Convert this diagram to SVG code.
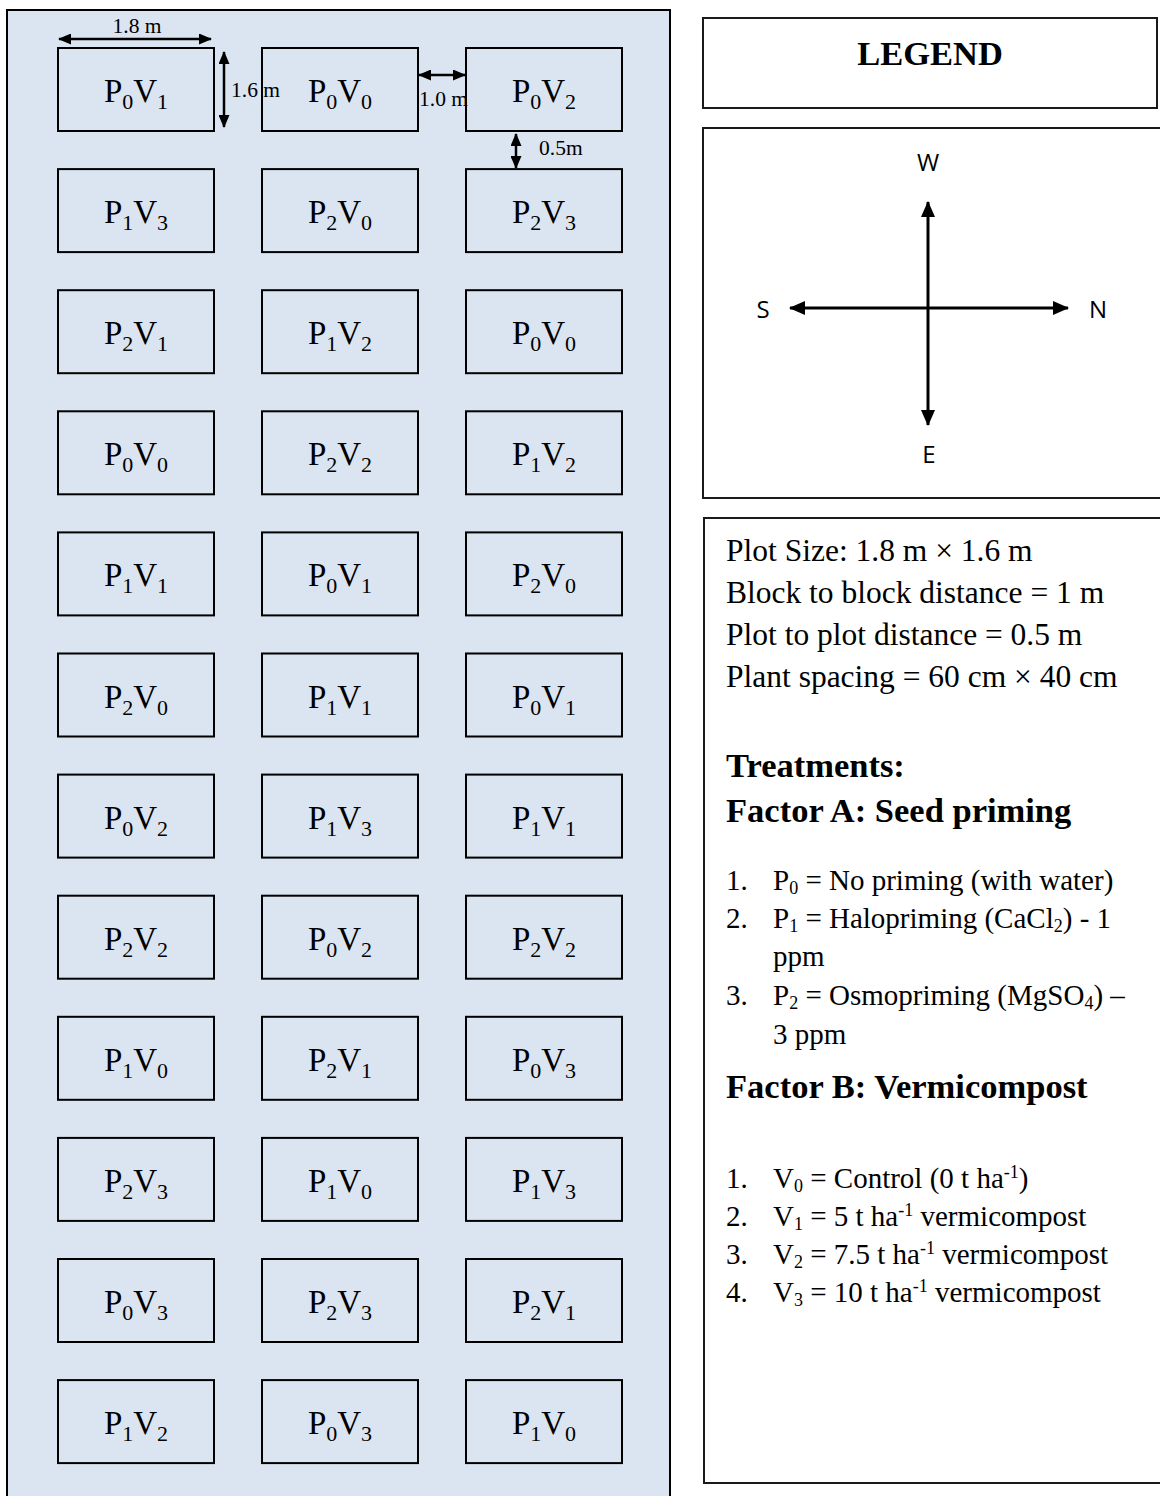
<svg xmlns="http://www.w3.org/2000/svg" width="1160" height="1496" viewBox="0 0 1160 1496">
  <defs>
    <marker id="dimHead" viewBox="0 0 13 11" refX="12" refY="5.5" markerWidth="13" markerHeight="11" markerUnits="userSpaceOnUse" orient="auto-start-reverse">
      <path d="M0,0 L13,5.5 L0,11 Z" fill="#000"/>
    </marker>
    <marker id="compassHead" viewBox="0 0 16 14" refX="15" refY="7" markerWidth="16" markerHeight="14" markerUnits="userSpaceOnUse" orient="auto-start-reverse">
      <path d="M0,0 L16,7 L0,14 Z" fill="#000"/>
    </marker>
  </defs>
  <style>
    .field { fill: #dbe5f1; stroke: #000; stroke-width: 2; }
    .plot rect { fill: none; stroke: #000; stroke-width: 2; }
    .plot text { font-family: "Liberation Serif", "Times New Roman", serif; font-size: 33px; fill: #000; text-anchor: middle; }
    .plot .s { font-size: 22px; }
    .dim { stroke: #000; stroke-width: 2.5; fill: none; marker-start: url(#dimHead); marker-end: url(#dimHead); }
    .dimlbl { font-family: "Liberation Serif", "Times New Roman", serif; font-size: 21.5px; fill: #000; }
    .box { fill: #fff; stroke: #1a1a1a; stroke-width: 2; }
    .cmp { stroke: #000; stroke-width: 3; fill: none; marker-start: url(#compassHead); marker-end: url(#compassHead); }
    .dir { font-family: "Open Sans", "Noto Sans", sans-serif; font-size: 24px; fill: #000; text-anchor: middle; }
    .serif { font-family: "Liberation Serif", "Times New Roman", serif; fill: #000; }
    .note { font-size: 31.5px; }
    .head { font-size: 34.5px; font-weight: bold; }
    .item { font-size: 29px; }
    .sub { font-size: 18px; }
    .sup { font-size: 18px; }
  </style>

  <!-- field layout background -->
  <rect class="field" x="7" y="10" width="663" height="1500"/>

  <!-- plots: 12 rows x 3 blocks -->
  <g id="plots">
    <g id="r1c1" class="plot"><rect x="58" y="48" width="156" height="83"/><text x="136" y="102">P<tspan class="s" dy="7">0</tspan><tspan dy="-7">V</tspan><tspan class="s" dy="7">1</tspan></text></g>
    <g id="r1c2" class="plot"><rect x="262" y="48" width="156" height="83"/><text x="340" y="102">P<tspan class="s" dy="7">0</tspan><tspan dy="-7">V</tspan><tspan class="s" dy="7">0</tspan></text></g>
    <g id="r1c3" class="plot"><rect x="466" y="48" width="156" height="83"/><text x="544" y="102">P<tspan class="s" dy="7">0</tspan><tspan dy="-7">V</tspan><tspan class="s" dy="7">2</tspan></text></g>

    <g id="r2c1" class="plot"><rect x="58" y="169.1" width="156" height="83"/><text x="136" y="223.1">P<tspan class="s" dy="7">1</tspan><tspan dy="-7">V</tspan><tspan class="s" dy="7">3</tspan></text></g>
    <g id="r2c2" class="plot"><rect x="262" y="169.1" width="156" height="83"/><text x="340" y="223.1">P<tspan class="s" dy="7">2</tspan><tspan dy="-7">V</tspan><tspan class="s" dy="7">0</tspan></text></g>
    <g id="r2c3" class="plot"><rect x="466" y="169.1" width="156" height="83"/><text x="544" y="223.1">P<tspan class="s" dy="7">2</tspan><tspan dy="-7">V</tspan><tspan class="s" dy="7">3</tspan></text></g>

    <g id="r3c1" class="plot"><rect x="58" y="290.2" width="156" height="83"/><text x="136" y="344.2">P<tspan class="s" dy="7">2</tspan><tspan dy="-7">V</tspan><tspan class="s" dy="7">1</tspan></text></g>
    <g id="r3c2" class="plot"><rect x="262" y="290.2" width="156" height="83"/><text x="340" y="344.2">P<tspan class="s" dy="7">1</tspan><tspan dy="-7">V</tspan><tspan class="s" dy="7">2</tspan></text></g>
    <g id="r3c3" class="plot"><rect x="466" y="290.2" width="156" height="83"/><text x="544" y="344.2">P<tspan class="s" dy="7">0</tspan><tspan dy="-7">V</tspan><tspan class="s" dy="7">0</tspan></text></g>

    <g id="r4c1" class="plot"><rect x="58" y="411.3" width="156" height="83"/><text x="136" y="465.3">P<tspan class="s" dy="7">0</tspan><tspan dy="-7">V</tspan><tspan class="s" dy="7">0</tspan></text></g>
    <g id="r4c2" class="plot"><rect x="262" y="411.3" width="156" height="83"/><text x="340" y="465.3">P<tspan class="s" dy="7">2</tspan><tspan dy="-7">V</tspan><tspan class="s" dy="7">2</tspan></text></g>
    <g id="r4c3" class="plot"><rect x="466" y="411.3" width="156" height="83"/><text x="544" y="465.3">P<tspan class="s" dy="7">1</tspan><tspan dy="-7">V</tspan><tspan class="s" dy="7">2</tspan></text></g>

    <g id="r5c1" class="plot"><rect x="58" y="532.4" width="156" height="83"/><text x="136" y="586.4">P<tspan class="s" dy="7">1</tspan><tspan dy="-7">V</tspan><tspan class="s" dy="7">1</tspan></text></g>
    <g id="r5c2" class="plot"><rect x="262" y="532.4" width="156" height="83"/><text x="340" y="586.4">P<tspan class="s" dy="7">0</tspan><tspan dy="-7">V</tspan><tspan class="s" dy="7">1</tspan></text></g>
    <g id="r5c3" class="plot"><rect x="466" y="532.4" width="156" height="83"/><text x="544" y="586.4">P<tspan class="s" dy="7">2</tspan><tspan dy="-7">V</tspan><tspan class="s" dy="7">0</tspan></text></g>

    <g id="r6c1" class="plot"><rect x="58" y="653.5" width="156" height="83"/><text x="136" y="707.5">P<tspan class="s" dy="7">2</tspan><tspan dy="-7">V</tspan><tspan class="s" dy="7">0</tspan></text></g>
    <g id="r6c2" class="plot"><rect x="262" y="653.5" width="156" height="83"/><text x="340" y="707.5">P<tspan class="s" dy="7">1</tspan><tspan dy="-7">V</tspan><tspan class="s" dy="7">1</tspan></text></g>
    <g id="r6c3" class="plot"><rect x="466" y="653.5" width="156" height="83"/><text x="544" y="707.5">P<tspan class="s" dy="7">0</tspan><tspan dy="-7">V</tspan><tspan class="s" dy="7">1</tspan></text></g>

    <g id="r7c1" class="plot"><rect x="58" y="774.6" width="156" height="83"/><text x="136" y="828.6">P<tspan class="s" dy="7">0</tspan><tspan dy="-7">V</tspan><tspan class="s" dy="7">2</tspan></text></g>
    <g id="r7c2" class="plot"><rect x="262" y="774.6" width="156" height="83"/><text x="340" y="828.6">P<tspan class="s" dy="7">1</tspan><tspan dy="-7">V</tspan><tspan class="s" dy="7">3</tspan></text></g>
    <g id="r7c3" class="plot"><rect x="466" y="774.6" width="156" height="83"/><text x="544" y="828.6">P<tspan class="s" dy="7">1</tspan><tspan dy="-7">V</tspan><tspan class="s" dy="7">1</tspan></text></g>

    <g id="r8c1" class="plot"><rect x="58" y="895.7" width="156" height="83"/><text x="136" y="949.7">P<tspan class="s" dy="7">2</tspan><tspan dy="-7">V</tspan><tspan class="s" dy="7">2</tspan></text></g>
    <g id="r8c2" class="plot"><rect x="262" y="895.7" width="156" height="83"/><text x="340" y="949.7">P<tspan class="s" dy="7">0</tspan><tspan dy="-7">V</tspan><tspan class="s" dy="7">2</tspan></text></g>
    <g id="r8c3" class="plot"><rect x="466" y="895.7" width="156" height="83"/><text x="544" y="949.7">P<tspan class="s" dy="7">2</tspan><tspan dy="-7">V</tspan><tspan class="s" dy="7">2</tspan></text></g>

    <g id="r9c1" class="plot"><rect x="58" y="1016.8" width="156" height="83"/><text x="136" y="1070.8">P<tspan class="s" dy="7">1</tspan><tspan dy="-7">V</tspan><tspan class="s" dy="7">0</tspan></text></g>
    <g id="r9c2" class="plot"><rect x="262" y="1016.8" width="156" height="83"/><text x="340" y="1070.8">P<tspan class="s" dy="7">2</tspan><tspan dy="-7">V</tspan><tspan class="s" dy="7">1</tspan></text></g>
    <g id="r9c3" class="plot"><rect x="466" y="1016.8" width="156" height="83"/><text x="544" y="1070.8">P<tspan class="s" dy="7">0</tspan><tspan dy="-7">V</tspan><tspan class="s" dy="7">3</tspan></text></g>

    <g id="r10c1" class="plot"><rect x="58" y="1137.9" width="156" height="83"/><text x="136" y="1191.9">P<tspan class="s" dy="7">2</tspan><tspan dy="-7">V</tspan><tspan class="s" dy="7">3</tspan></text></g>
    <g id="r10c2" class="plot"><rect x="262" y="1137.9" width="156" height="83"/><text x="340" y="1191.9">P<tspan class="s" dy="7">1</tspan><tspan dy="-7">V</tspan><tspan class="s" dy="7">0</tspan></text></g>
    <g id="r10c3" class="plot"><rect x="466" y="1137.9" width="156" height="83"/><text x="544" y="1191.9">P<tspan class="s" dy="7">1</tspan><tspan dy="-7">V</tspan><tspan class="s" dy="7">3</tspan></text></g>

    <g id="r11c1" class="plot"><rect x="58" y="1259" width="156" height="83"/><text x="136" y="1313">P<tspan class="s" dy="7">0</tspan><tspan dy="-7">V</tspan><tspan class="s" dy="7">3</tspan></text></g>
    <g id="r11c2" class="plot"><rect x="262" y="1259" width="156" height="83"/><text x="340" y="1313">P<tspan class="s" dy="7">2</tspan><tspan dy="-7">V</tspan><tspan class="s" dy="7">3</tspan></text></g>
    <g id="r11c3" class="plot"><rect x="466" y="1259" width="156" height="83"/><text x="544" y="1313">P<tspan class="s" dy="7">2</tspan><tspan dy="-7">V</tspan><tspan class="s" dy="7">1</tspan></text></g>

    <g id="r12c1" class="plot"><rect x="58" y="1380.1" width="156" height="83"/><text x="136" y="1434.1">P<tspan class="s" dy="7">1</tspan><tspan dy="-7">V</tspan><tspan class="s" dy="7">2</tspan></text></g>
    <g id="r12c2" class="plot"><rect x="262" y="1380.1" width="156" height="83"/><text x="340" y="1434.1">P<tspan class="s" dy="7">0</tspan><tspan dy="-7">V</tspan><tspan class="s" dy="7">3</tspan></text></g>
    <g id="r12c3" class="plot"><rect x="466" y="1380.1" width="156" height="83"/><text x="544" y="1434.1">P<tspan class="s" dy="7">1</tspan><tspan dy="-7">V</tspan><tspan class="s" dy="7">0</tspan></text></g>
  </g>

  <!-- dimension arrows -->
  <g id="connectors">
    <line class="dim" x1="59" y1="39" x2="211" y2="39"/>
    <line class="dim" x1="224" y1="52" x2="224" y2="127"/>
    <line class="dim" x1="419" y1="75" x2="465" y2="75"/>
    <line class="dim" x1="516" y1="134" x2="516" y2="168"/>
  </g>
  <g id="dimension-labels">
    <text class="dimlbl" x="137" y="33" text-anchor="middle">1.8 m</text>
    <text class="dimlbl" x="231" y="97">1.6 m</text>
    <text class="dimlbl" x="419" y="106">1.0 m</text>
    <text class="dimlbl" x="539" y="155">0.5m</text>
  </g>

  <!-- legend title -->
  <g id="legend-title">
    <rect class="box" x="703" y="18" width="454" height="90"/>
    <text class="serif head" x="930" y="65" text-anchor="middle">LEGEND</text>
  </g>

  <!-- compass -->
  <g id="compass">
    <rect class="box" x="703" y="128" width="470" height="370"/>
    <line class="cmp" x1="928" y1="425" x2="928" y2="202"/>
    <line class="cmp" x1="790" y1="308" x2="1068" y2="308"/>
    <text class="dir" x="928" y="171">W</text>
    <text class="dir" x="763" y="318">S</text>
    <text class="dir" x="1098" y="318">N</text>
    <text class="dir" x="929" y="463">E</text>
  </g>

  <!-- plot details and treatments -->
  <g id="details">
    <rect class="box" x="704" y="518" width="470" height="965"/>
    <text class="serif note" x="726" y="561">Plot Size: 1.8 m × 1.6 m</text>
    <text class="serif note" x="726" y="603">Block to block distance = 1 m</text>
    <text class="serif note" x="726" y="645">Plot to plot distance = 0.5 m</text>
    <text class="serif note" x="726" y="687">Plant spacing = 60 cm × 40 cm</text>

    <text class="serif head" x="726" y="777">Treatments:</text>
    <text class="serif head" x="726" y="822">Factor A: Seed priming</text>

    <text class="serif item" x="726" y="890">1.</text>
    <text class="serif item" x="773" y="890">P<tspan class="sub" dy="4">0</tspan><tspan dy="-4"> = No priming (with water)</tspan></text>
    <text class="serif item" x="726" y="928">2.</text>
    <text class="serif item" x="773" y="928">P<tspan class="sub" dy="4">1</tspan><tspan dy="-4"> = Halopriming (CaCl</tspan><tspan class="sub" dy="4">2</tspan><tspan dy="-4">) - 1</tspan></text>
    <text class="serif item" x="773" y="966">ppm</text>
    <text class="serif item" x="726" y="1005">3.</text>
    <text class="serif item" x="773" y="1005">P<tspan class="sub" dy="4">2</tspan><tspan dy="-4"> = Osmopriming (MgSO</tspan><tspan class="sub" dy="4">4</tspan><tspan dy="-4">) –</tspan></text>
    <text class="serif item" x="773" y="1044">3 ppm</text>

    <text class="serif head" x="726" y="1098">Factor B: Vermicompost</text>

    <text class="serif item" x="726" y="1188">1.</text>
    <text class="serif item" x="773" y="1188">V<tspan class="sub" dy="4">0</tspan><tspan dy="-4"> = Control (0 t ha</tspan><tspan class="sup" dy="-10">-1</tspan><tspan dy="10">)</tspan></text>
    <text class="serif item" x="726" y="1226">2.</text>
    <text class="serif item" x="773" y="1226">V<tspan class="sub" dy="4">1</tspan><tspan dy="-4"> = 5 t ha</tspan><tspan class="sup" dy="-10">-1</tspan><tspan dy="10"> vermicompost</tspan></text>
    <text class="serif item" x="726" y="1264">3.</text>
    <text class="serif item" x="773" y="1264">V<tspan class="sub" dy="4">2</tspan><tspan dy="-4"> = 7.5 t ha</tspan><tspan class="sup" dy="-10">-1</tspan><tspan dy="10"> vermicompost</tspan></text>
    <text class="serif item" x="726" y="1302">4.</text>
    <text class="serif item" x="773" y="1302">V<tspan class="sub" dy="4">3</tspan><tspan dy="-4"> = 10 t ha</tspan><tspan class="sup" dy="-10">-1</tspan><tspan dy="10"> vermicompost</tspan></text>
  </g>
</svg>
